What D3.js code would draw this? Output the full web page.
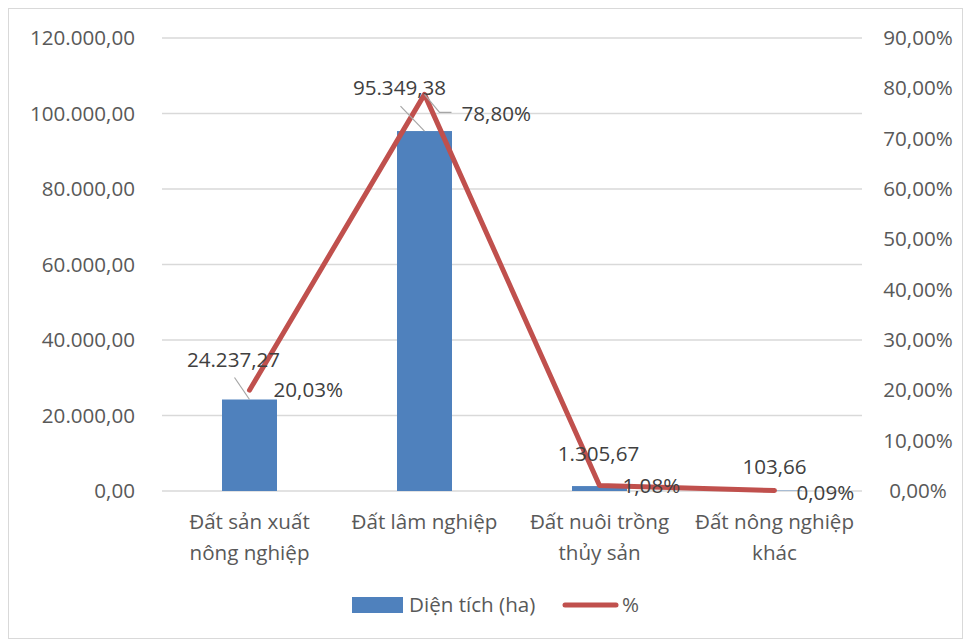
<!DOCTYPE html>
<html>
<head>
<meta charset="utf-8">
<script src="https://cdn.jsdelivr.net/npm/d3@7"></script>
<style>
  html, body { margin: 0; padding: 0; background: #fff; }
  svg { display: block; font-family: "Open Sans", "Liberation Sans", sans-serif; }
</style>
</head>
<body>
<svg id="chart" width="964" height="641"></svg>
<script>
// Land use: area (ha) and share (%) by category
const categories = [
  ["Đất sản xuất", "nông nghiệp"],
  ["Đất lâm nghiệp"],
  ["Đất nuôi trồng", "thủy sản"],
  ["Đất nông nghiệp", "khác"]
];
const areaHa = [24237.27, 95349.38, 1305.67, 103.66];
const sharePct = [20.03, 78.80, 1.08, 0.09];
const leftTicks = [0, 20000, 40000, 60000, 80000, 100000, 120000];
const rightTicks = [0, 10, 20, 30, 40, 50, 60, 70, 80, 90];
const seriesNames = ["Diện tích (ha)", "%"];

const vi = d3.formatLocale({ decimal: ",", thousands: ".", grouping: [3], currency: ["", ""] });
const fmtNum = vi.format(",.2f");
const fmtPct = v => vi.format(".2f")(v) + "%";

const svg = d3.select("#chart");
const W = 964, H = 641;
const plot = { left: 162, right: 862, top: 38, bottom: 491 };
const FS = 20.6;

const barColor = "#4f81bd";
const lineColor = "#c0504d";
const gridColor = "#d9d9d9";
const axisText = "#595959";
const labelText = "#404040";

// chart frame
svg.append("rect")
  .attr("x", 8.5).attr("y", 8.5).attr("width", W - 10).attr("height", H - 11)
  .attr("fill", "#fff").attr("stroke", gridColor).attr("stroke-width", 1);

const x = d3.scaleBand().domain(d3.range(categories.length))
  .range([plot.left, plot.right]).paddingInner(0).paddingOuter(0);
const yL = d3.scaleLinear().domain([0, 120000]).range([plot.bottom, plot.top]);
const yR = d3.scaleLinear().domain([0, 90]).range([plot.bottom, plot.top]);

// gridlines
svg.append("g").selectAll("line").data(leftTicks).join("line")
  .attr("x1", plot.left).attr("x2", plot.right)
  .attr("y1", d => yL(d)).attr("y2", d => yL(d))
  .attr("stroke", gridColor).attr("stroke-width", 1.5);

// left axis
const gL = svg.append("g").attr("transform", `translate(${plot.left - 27},0)`)
  .call(d3.axisLeft(yL).tickValues(leftTicks).tickFormat(fmtNum).tickSize(0).tickPadding(0));
gL.select(".domain").remove();
gL.selectAll("text").attr("fill", axisText).attr("font-size", FS)
  .attr("font-family", "'Open Sans', sans-serif");

// right axis
const gR = svg.append("g").attr("transform", `translate(${plot.right + 56},0)`)
  .call(d3.axisRight(yR).tickValues(rightTicks).tickFormat(d => vi.format(".2f")(d) + "%").tickSize(0).tickPadding(0));
gR.select(".domain").remove();
gR.selectAll("text").attr("fill", axisText).attr("font-size", FS)
  .attr("text-anchor", "middle").attr("font-family", "'Open Sans', sans-serif");

// category labels
const gX = svg.append("g");
categories.forEach((lines, i) => {
  const t = gX.append("text")
    .attr("x", x(i) + x.bandwidth() / 2).attr("y", 529)
    .attr("text-anchor", "middle").attr("fill", axisText).attr("font-size", FS);
  lines.forEach((ln, j) => {
    t.append("tspan").attr("x", x(i) + x.bandwidth() / 2).attr("dy", j === 0 ? 0 : 31).text(ln);
  });
});

// bars
const barW = 55;
svg.append("g").selectAll("rect").data(areaHa).join("rect")
  .attr("x", (d, i) => x(i) + x.bandwidth() / 2 - barW / 2)
  .attr("y", d => yL(d))
  .attr("width", barW)
  .attr("height", d => plot.bottom - yL(d))
  .attr("fill", barColor);

// share line
const cx = i => x(i) + x.bandwidth() / 2;
svg.append("path").datum(sharePct)
  .attr("d", d3.line().x((d, i) => cx(i)).y(d => yR(d)))
  .attr("fill", "none").attr("stroke", lineColor).attr("stroke-width", 5)
  .attr("stroke-linejoin", "round").attr("stroke-linecap", "round");

// data labels: offsets of each label from its mark
const barLabelOff = [[-16, -40], [-25, -43], [-1, -32], [0, -24]];
const pctLabelOff = [[24, 0], [37, 19], [23, 0], [22, 2]];
const leader = "#a6a6a6";

const gLab = svg.append("g");
areaHa.forEach((v, i) => {
  const bx = cx(i), by = yL(v);
  const lx = bx + barLabelOff[i][0], ly = by + barLabelOff[i][1];
  if (i < 2) {
    gLab.append("line")
      .attr("x1", lx + 1).attr("y1", ly + 18).attr("x2", bx).attr("y2", by)
      .attr("stroke", leader).attr("stroke-width", 1.2);
  }
  gLab.append("text").attr("x", lx).attr("y", ly).attr("dy", "0.35em")
    .attr("text-anchor", "middle").attr("fill", labelText).attr("font-size", FS)
    .text(fmtNum(v));
});
sharePct.forEach((v, i) => {
  const px = cx(i), py = yR(v);
  const lx = px + pctLabelOff[i][0], ly = py + pctLabelOff[i][1];
  if (i === 1) {
    gLab.append("polyline")
      .attr("points", `${px},${py} ${lx - 22},${ly - 1} ${lx - 10},${ly - 1}`)
      .attr("fill", "none").attr("stroke", leader).attr("stroke-width", 1.2);
  }
  gLab.append("text").attr("x", lx).attr("y", ly).attr("dy", "0.35em")
    .attr("text-anchor", "start").attr("fill", labelText).attr("font-size", FS)
    .text(fmtPct(v));
});

// legend
const lg = svg.append("g");
lg.append("rect").attr("x", 352).attr("y", 597).attr("width", 51).attr("height", 16).attr("fill", barColor);
lg.append("text").attr("x", 409).attr("y", 605).attr("dy", "0.35em")
  .attr("fill", axisText).attr("font-size", FS).text(seriesNames[0]);
lg.append("line").attr("x1", 565).attr("x2", 616).attr("y1", 605).attr("y2", 605)
  .attr("stroke", lineColor).attr("stroke-width", 5).attr("stroke-linecap", "round");
lg.append("text").attr("x", 622).attr("y", 605).attr("dy", "0.35em")
  .attr("fill", axisText).attr("font-size", FS).text(seriesNames[1]);
</script>
</body>
</html>
